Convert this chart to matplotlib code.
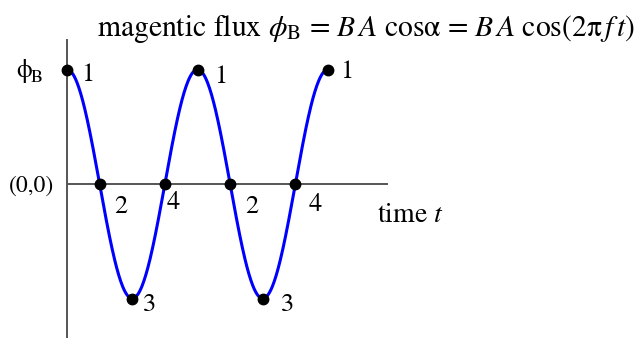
import numpy as np
import matplotlib
matplotlib.use("Agg")
import matplotlib.pyplot as plt

plt.rcParams['font.family'] = ['STIXGeneral', 'DejaVu Serif']
plt.rcParams['mathtext.fontset'] = 'stix'

# marked points on the flux curve (t in periods, phi normalised)
t_pts = [0, 0.25, 0.5, 0.75, 1.0, 1.25, 1.5, 1.75, 2.0]
phi_pts = [1, 0, -1, 0, 1, 0, -1, 0, 1]
pt_labels = ['1', '2', '3', '4', '1', '2', '3', '4', '1']
f = 1.0

# the curve itself: phi = cos(2 pi f t), as in the title
t = np.linspace(0, 2, 400)
phi = np.cos(2 * np.pi * f * t)

W, H = 636, 338
fig = plt.figure(figsize=(W / 100, H / 100), dpi=100)
ax = fig.add_axes([0, 0, 1, 1])
ax.axis('off')

# pixel mapping: t=0 at x=67, one period = 130.5 px; phi=0 at y=184, amplitude 114.5 px
px_t, x0 = 130.5, 67
px_p, y0 = 114.5, 184
ax.set_xlim(-x0 / px_t, (W - x0) / px_t)
ax.set_ylim((y0 - H) / px_p, y0 / px_p)

# axes lines
ax.plot([0, 0], [(y0 - 40) / px_p, (y0 - H) / px_p], color='#555555', lw=1.4)
ax.plot([0, (387 - x0) / px_t], [0, 0], color='#555555', lw=1.4)

ax.plot(t, phi, color='#0000ff', lw=2.2, zorder=3)
ax.plot(t_pts, phi_pts, 'o', color='black', ms=7.5, zorder=4)

# label offsets in pixels (dx right, dy down) for each marked point
offs = [(14, 11), (21, 23), (17, 6), (8, 19), (17, 13), (22, 23), (25, 6), (20, 21), (12, 8)]
for tp, pp, lab, (dx, dy) in zip(t_pts, phi_pts, pt_labels, offs):
    if lab == '1':
        ax.annotate(lab, (tp, pp), xytext=(dx * 0.72, -dy * 0.72), textcoords='offset points',
                    ha='left', va='baseline', fontsize=19)
    else:
        ax.annotate(lab, (tp, pp), xytext=(dx * 0.72, -dy * 0.72), textcoords='offset points',
                    ha='center', va='center', fontsize=19)

fig.text(97 / W, 1 - 36 / H,
         r"magentic flux $\phi_{\rm B}$ = $B\,A$ cos$\mathrm{\alpha}$ = $B\,A$ cos(2$\mathrm{\pi}\,f\,t$)",
         ha='left', va='baseline', fontsize=21.3)
fig.text(16 / W, 1 - 77 / H, "ϕ", ha='left', va='baseline', fontsize=18)
fig.text(31 / W, 1 - 82 / H, "B", ha='left', va='baseline', fontsize=13)
fig.text(54 / W, 1 - 186 / H, "(0,0)", ha='right', va='center', fontsize=17)
fig.text(377 / W, 1 - 222 / H, r"time $t$", ha='left', va='baseline', fontsize=20)

fig.savefig("out.png", dpi=100)
